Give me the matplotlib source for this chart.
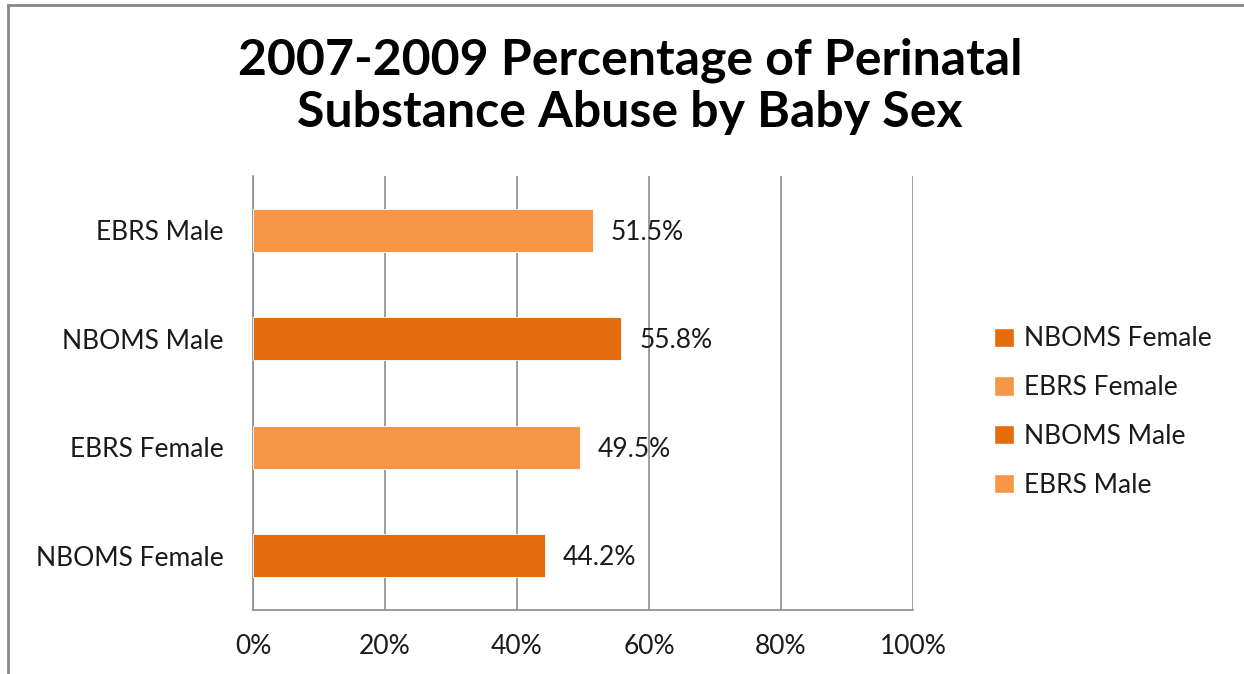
import matplotlib
matplotlib.use("Agg")
import matplotlib.pyplot as plt
from matplotlib.patches import Rectangle, Patch
from matplotlib.ticker import FuncFormatter

plt.rcParams['font.family'] = ['Lato', 'DejaVu Sans']

categories = ["NBOMS Female", "EBRS Female", "NBOMS Male", "EBRS Male"]
values = [44.2, 49.5, 55.8, 51.5]
dark_orange = "#E46C0A"
light_orange = "#F79646"
colors = [dark_orange, light_orange, dark_orange, light_orange]
x_ticks = [0, 20, 40, 60, 80, 100]
title = "2007-2009 Percentage of Perinatal\nSubstance Abuse by Baby Sex"

W, H = 1244, 674
FS = 19

fig = plt.figure(figsize=(W / 100, H / 100), dpi=100)
fig.patch.set_facecolor("white")

# outer chart frame (left and top edges visible)
fig.patches.append(Rectangle((8 / W, -0.1), 1.2, 1 - 5 / H + 0.1,
                             transform=fig.transFigure, fill=False,
                             edgecolor="#878787", linewidth=2))

ax = fig.add_axes([253 / W, 1 - 610 / H, 660 / W, 434 / H])
y = list(range(len(categories)))
ax.barh(y, values, height=0.4, color=colors, edgecolor="white",
        linewidth=0.6, zorder=3)

ax.set_xlim(0, 100)
ax.set_ylim(-0.5, len(categories) - 0.5)
ax.set_xticks(x_ticks)
ax.xaxis.set_major_formatter(FuncFormatter(lambda v, p: f"{v:.0f}%"))
ax.set_yticks(y)
ax.set_yticklabels(categories)
ax.tick_params(axis="both", length=0, labelsize=FS, colors="#1a1a1a")
ax.tick_params(axis="y", pad=21)
ax.tick_params(axis="x", pad=17)
ax.grid(axis="x", color="#8c8c8c", linewidth=1.2, zorder=0)
for side in ["top", "right"]:
    ax.spines[side].set_visible(False)
for side in ["left", "bottom"]:
    ax.spines[side].set_color("#8c8c8c")
    ax.spines[side].set_linewidth(1.2)

for yi, v in zip(y, values):
    ax.text(v + 2.7, yi - 0.02, f"{v:.1f}%", va="center", ha="left",
            fontsize=FS, color="#1a1a1a", zorder=4)

fig.text(630 / W, 1 - 86 / H, title, ha="center", va="center",
         fontsize=36, fontweight="bold", color="black", linespacing=1.2)

handles = [Patch(facecolor=c, edgecolor="white") for c in colors]
leg = fig.legend(handles, categories, loc="center left",
                 bbox_to_anchor=(970 / W, 1 - 412 / H), frameon=False,
                 fontsize=FS, handlelength=0.75, handleheight=0.75,
                 handletextpad=0.4, labelspacing=0.9)
for t in leg.get_texts():
    t.set_color("#1a1a1a")

fig.savefig("out.png", dpi=100, facecolor="white")
